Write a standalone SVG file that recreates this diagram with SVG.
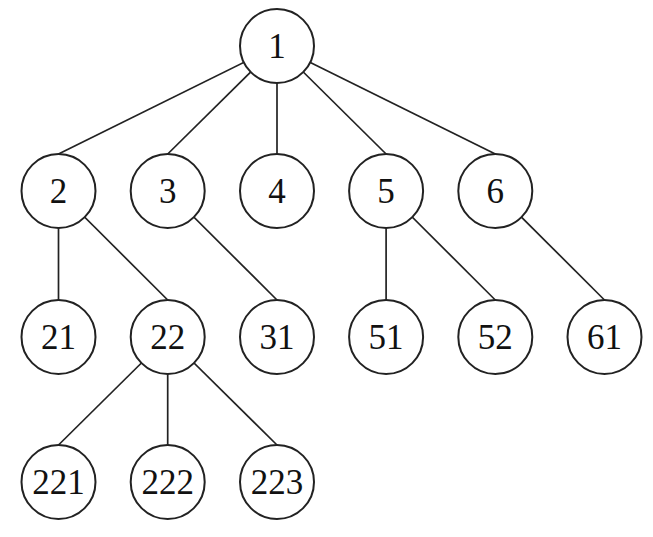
<svg xmlns="http://www.w3.org/2000/svg" width="653" height="537" viewBox="0 0 653 537">
<style>
.n circle{fill:#fff;stroke:#222;stroke-width:2}
.n text{font-family:"Liberation Serif","DejaVu Serif",serif;font-size:35px;fill:#111;text-anchor:middle}
.e line{stroke:#222;stroke-width:1.7}
</style>
<rect width="653" height="537" fill="#fff"/>
<g id="edges" class="e">
<line x1="277" y1="46" x2="58.5" y2="154"/>
<line x1="277" y1="46" x2="167.7" y2="154"/>
<line x1="277" y1="46" x2="277" y2="154"/>
<line x1="277" y1="46" x2="386.1" y2="154"/>
<line x1="277" y1="46" x2="495.3" y2="154"/>
<line x1="58.5" y1="191" x2="58.5" y2="300"/>
<line x1="58.5" y1="191" x2="167.7" y2="300"/>
<line x1="167.7" y1="191" x2="277" y2="300"/>
<line x1="386.1" y1="191" x2="386.1" y2="300"/>
<line x1="386.1" y1="191" x2="495.3" y2="300"/>
<line x1="495.3" y1="191" x2="604.5" y2="300"/>
<line x1="167.7" y1="337" x2="58.5" y2="445"/>
<line x1="167.7" y1="337" x2="167.7" y2="445"/>
<line x1="167.7" y1="337" x2="277" y2="445"/>
</g>
<g id="n1" class="n"><circle cx="277" cy="46" r="37"/><text x="277" y="58">1</text></g>
<g id="n2" class="n"><circle cx="58.5" cy="191" r="37"/><text x="58.5" y="203">2</text></g>
<g id="n3" class="n"><circle cx="167.7" cy="191" r="37"/><text x="167.7" y="203">3</text></g>
<g id="n4" class="n"><circle cx="277" cy="191" r="37"/><text x="277" y="203">4</text></g>
<g id="n5" class="n"><circle cx="386.1" cy="191" r="37"/><text x="386.1" y="203">5</text></g>
<g id="n6" class="n"><circle cx="495.3" cy="191" r="37"/><text x="495.3" y="203">6</text></g>
<g id="n21" class="n"><circle cx="58.5" cy="337" r="37"/><text x="58.5" y="349">21</text></g>
<g id="n22" class="n"><circle cx="167.7" cy="337" r="37"/><text x="167.7" y="349">22</text></g>
<g id="n31" class="n"><circle cx="277" cy="337" r="37"/><text x="277" y="349">31</text></g>
<g id="n51" class="n"><circle cx="386.1" cy="337" r="37"/><text x="386.1" y="349">51</text></g>
<g id="n52" class="n"><circle cx="495.3" cy="337" r="37"/><text x="495.3" y="349">52</text></g>
<g id="n61" class="n"><circle cx="604.5" cy="337" r="37"/><text x="604.5" y="349">61</text></g>
<g id="n221" class="n"><circle cx="58.5" cy="482" r="37"/><text x="58.5" y="494">221</text></g>
<g id="n222" class="n"><circle cx="167.7" cy="482" r="37"/><text x="167.7" y="494">222</text></g>
<g id="n223" class="n"><circle cx="277" cy="482" r="37"/><text x="277" y="494">223</text></g>
</svg>
